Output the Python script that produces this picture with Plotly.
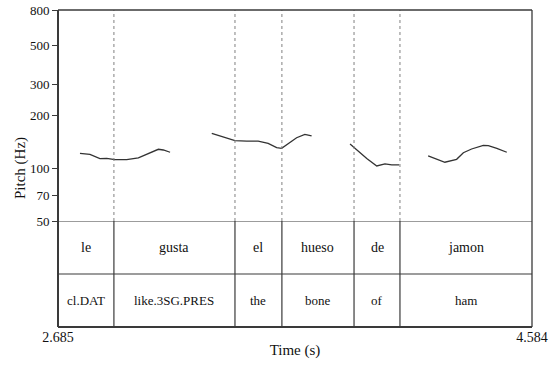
import plotly.graph_objects as go

# time range of the window (s)
t_start = 2.685
t_end = 4.584

# tier boundaries (s)
bounds = [2.909, 3.394, 3.582, 3.871, 4.055]
words = ["le", "gusta", "el", "hueso", "de", "jamon"]
gloss = ["cl.DAT", "like.3SG.PRES", "the", "bone", "of", "ham"]

# pitch contour (s, Hz)
t1 = [2.773, 2.813, 2.853, 2.880, 2.913, 2.960, 3.007, 3.040, 3.087, 3.107, 3.134]
f1 = [121.7, 120.1, 113.4, 114.0, 111.9, 111.9, 114.5, 120.1, 128.3, 127.1, 123.4]
t2 = [3.301, 3.347, 3.394, 3.441, 3.487, 3.527, 3.561, 3.581, 3.607, 3.641, 3.674, 3.701]
f2 = [158.3, 150.2, 143.6, 143.0, 143.0, 138.8, 131.0, 130.0, 137.5, 149.4, 156.2, 152.8]
t3 = [3.855, 3.882, 3.922, 3.962, 3.995, 4.022, 4.052]
f3 = [137.5, 127.1, 113.7, 103.1, 105.8, 104.4, 104.4]
t4 = [4.168, 4.235, 4.282, 4.309, 4.342, 4.389, 4.409, 4.443, 4.483]
f4 = [117.5, 108.2, 112.5, 122.6, 128.8, 135.2, 134.5, 130.0, 123.4]

yticks = [50, 70, 100, 200, 300, 500, 800]

FONT = "Liberation Serif, Times New Roman, DejaVu Serif, serif"
INK = "#3a3a3a"

fig = go.Figure()
for t, f in [(t1, f1), (t2, f2), (t3, f3), (t4, f4)]:
    fig.add_trace(go.Scatter(x=t, y=f, mode="lines", line=dict(color="#333", width=1.3),
                             xaxis="x", yaxis="y", showlegend=False, hoverinfo="skip"))

split = 106 / 317  # tier part of plot height
shapes = []
# dotted boundary lines in pitch area, solid in tiers
for b in bounds:
    shapes.append(dict(type="line", xref="x", yref="y domain", x0=b, x1=b, y0=0, y1=1,
                       line=dict(color="#808080", width=1, dash="dot")))
    shapes.append(dict(type="line", xref="x", yref="y2", x0=b, x1=b, y0=0, y1=2,
                       line=dict(color=INK, width=1.2)))
# horizontal tier lines
for yv in [1, 2]:
    shapes.append(dict(type="line", xref="paper", yref="y2", x0=0, x1=1, y0=yv, y1=yv,
                       line=dict(color=INK, width=1.2)))
# frame: thin top/right, heavier left/bottom
shapes.append(dict(type="line", xref="paper", yref="paper", x0=0, x1=1, y0=1, y1=1,
                   line=dict(color=INK, width=1.5)))
shapes.append(dict(type="line", xref="paper", yref="paper", x0=1, x1=1, y0=0, y1=1,
                   line=dict(color=INK, width=1.3)))
shapes.append(dict(type="line", xref="paper", yref="paper", x0=0, x1=0, y0=0, y1=1,
                   line=dict(color=INK, width=2)))
shapes.append(dict(type="line", xref="paper", yref="paper", x0=0, x1=1, y0=0, y1=0,
                   line=dict(color=INK, width=2)))

annotations = []
edges = [t_start] + bounds + [t_end]
for i in range(len(words)):
    mid = (edges[i] + edges[i + 1]) / 2
    annotations.append(dict(x=mid, y=1.5, xref="x", yref="y2", text=words[i], showarrow=False,
                            font=dict(family=FONT, size=14, color="#111")))
    annotations.append(dict(x=mid, y=0.5, xref="x", yref="y2", text=gloss[i], showarrow=False,
                            font=dict(family=FONT, size=13, color="#111")))
annotations.append(dict(x=0, y=0.5, xref="paper", yref="paper", xshift=-48, text="Pitch (Hz)",
                        textangle=-90, showarrow=False, font=dict(family=FONT, size=15, color="#111")))

fig.update_layout(
    width=550, height=367,
    margin=dict(l=58, r=18, t=10, b=40),
    paper_bgcolor="white", plot_bgcolor="white",
    font=dict(family=FONT, size=14, color="#111"),
    xaxis=dict(range=[t_start, t_end], anchor="y2", showgrid=False, zeroline=False,
               automargin=False, tickvals=[t_start, t_end], ticktext=["2.685", "4.584"],
               ticks="", tickfont=dict(size=14), ticklabeloverflow="allow",
               title=dict(text="Time (s)", standoff=0, font=dict(family=FONT, size=15))),
    yaxis=dict(type="log", domain=[split, 1], range=[1.69897, 2.90309], showgrid=False,
               zeroline=False, automargin=False, tickvals=yticks,
               ticktext=[str(v) for v in yticks], tickfont=dict(size=13),
               ticklabeloverflow="allow",
               ticks="outside", ticklen=5, tickcolor=INK, tickwidth=1.2),
    yaxis2=dict(domain=[0, split], range=[0, 2], visible=False, fixedrange=True),
    shapes=shapes,
    annotations=annotations,
)

# drop the page's default body margin so the figure sits at the window's corner
fig.write_html("out.html", config={"displayModeBar": False},
               post_script="document.body.style.margin='0px';")
